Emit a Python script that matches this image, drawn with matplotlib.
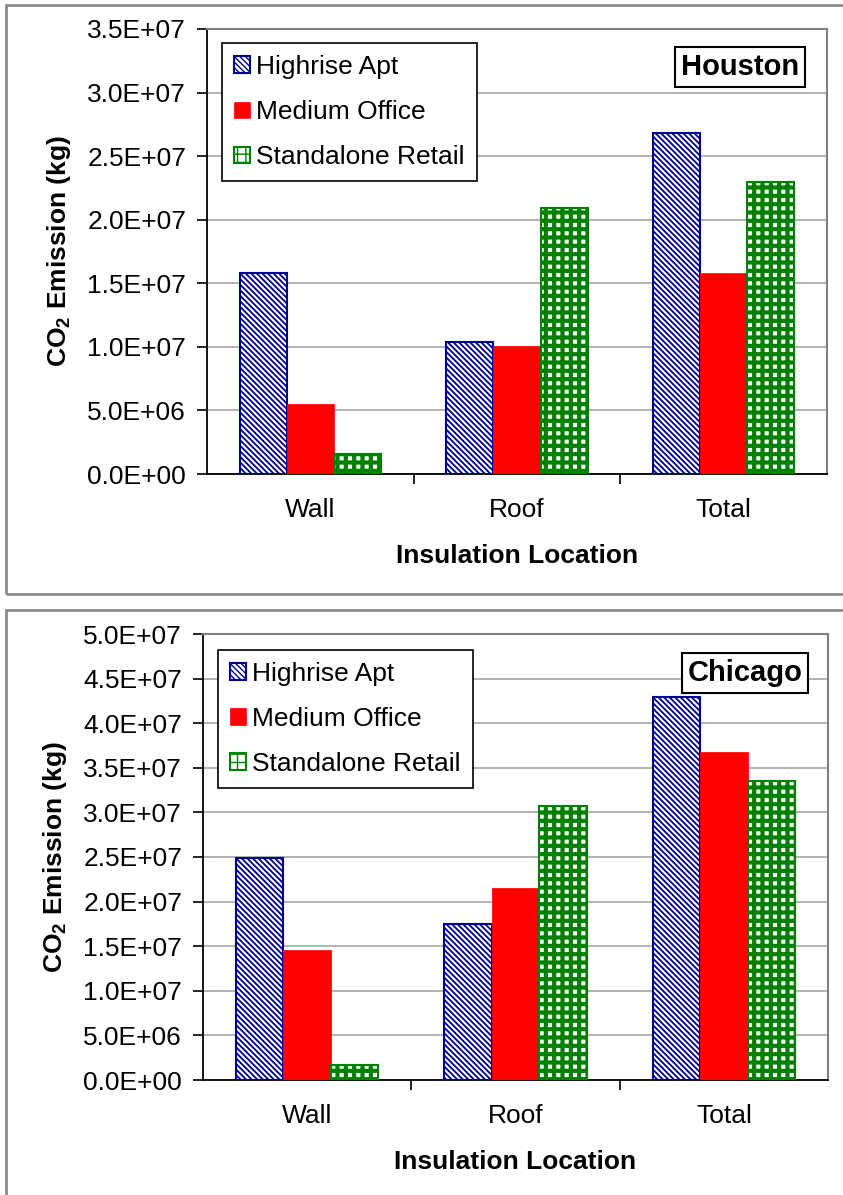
import numpy as np
import matplotlib
matplotlib.use("Agg")
import matplotlib.pyplot as plt
from matplotlib.patches import Rectangle
from matplotlib.ticker import FormatStrFormatter

# data (kg CO2)
locations = ["Wall", "Roof", "Total"]
series = ["Highrise Apt", "Medium Office", "Standalone Retail"]
houston_highrise = [15.8e6, 10.4e6, 26.8e6]
houston_office = [5.5e6, 10.1e6, 15.8e6]
houston_retail = [1.6e6, 20.9e6, 23.0e6]
chicago_highrise = [24.9e6, 17.5e6, 42.9e6]
chicago_office = [14.6e6, 21.5e6, 36.8e6]
chicago_retail = [1.7e6, 30.7e6, 33.5e6]

plt.rcParams['font.family'] = ['Liberation Sans', 'DejaVu Sans']
plt.rcParams['mathtext.fontset'] = 'custom'
plt.rcParams['mathtext.rm'] = 'Liberation Sans'
plt.rcParams['mathtext.bf'] = 'Liberation Sans:bold'
plt.rcParams['font.size'] = 19

styles = [
    dict(facecolor="white", edgecolor="#000090", hatch="\\" * 6, lw=1.5, hlw=1.3),
    dict(facecolor="#ff0000", edgecolor="#ff0000", hatch=None, lw=0.5, hlw=1.0),
    dict(facecolor="white", edgecolor="#008000", hatch="++", lw=1.5, hlw=3.0),
]

fig = plt.figure(figsize=(8.43, 11.95), dpi=100)

# grey panel frames like the pasted excel charts
for y0, y1 in [(5, 594), (610, 1220)]:
    fig.add_artist(Rectangle((6 / 843, 1 - y1 / 1195), 1.0, (y1 - y0) / 1195,
                             transform=fig.transFigure, fill=False,
                             edgecolor="#8c8c8c", lw=2.0))


def panel(rect, vals, ymax, city, leg_y, city_xy):
    ax = fig.add_axes(rect)
    x = np.arange(len(locations))
    w = 0.228
    for i, (v, st) in enumerate(zip(vals, styles)):
        bars = ax.bar(x + (i - 1) * w, v, w, facecolor=st["facecolor"],
                      edgecolor=st["edgecolor"], hatch=st["hatch"],
                      linewidth=st["lw"], label=series[i], zorder=3)
        for b in bars:
            if hasattr(b, "set_hatch_linewidth"):
                b.set_hatch_linewidth(st["hlw"])
    ax.set_xlim(-0.5, 2.5)
    ax.set_ylim(0, ymax)
    ax.set_yticks(np.arange(0, ymax + 1, 5e6))
    ax.yaxis.set_major_formatter(FormatStrFormatter("%.1E"))
    ax.grid(axis="y", color="#a6a6a6", lw=1.2, zorder=0)
    ax.set_xticks([0.5, 1.5])
    ax.set_xticklabels([])
    ax.set_xticks(x, minor=True)
    ax.set_xticklabels(locations, minor=True)
    ax.tick_params(axis="x", which="major", length=7, width=1.2, direction="out")
    ax.tick_params(axis="x", which="minor", length=0, pad=17)
    ax.tick_params(axis="y", length=7, width=1.2, direction="out", pad=8)
    for s in ["left", "bottom"]:
        ax.spines[s].set_color("black")
        ax.spines[s].set_linewidth(1.3)
    for s in ["top", "right"]:
        ax.spines[s].set_color("#7f7f7f")
        ax.spines[s].set_linewidth(1.5)
    ax.set_xlabel("Insulation Location", fontweight="bold", labelpad=16)
    ax.set_ylabel(r"CO$_\mathbf{2}$ Emission (kg)", fontweight="bold", labelpad=10)
    leg = ax.legend(loc="upper left", bbox_to_anchor=(0.024, leg_y), fancybox=False,
                    framealpha=1, edgecolor="black", borderpad=0.45,
                    labelspacing=0.8, handlelength=0.6, handleheight=0.6,
                    handletextpad=0.25, borderaxespad=0)
    leg.get_frame().set_linewidth(1.2)
    ax.text(city_xy[0], city_xy[1], city, transform=ax.transAxes, fontsize=21,
            fontweight="bold", ha="center", va="center", zorder=5,
            bbox=dict(boxstyle="square,pad=0.2", facecolor="white",
                      edgecolor="black", lw=1.5))
    return ax


panel([207 / 843, 1 - 474 / 1195, 620 / 843, 445 / 1195],
      [houston_highrise, houston_office, houston_retail], 3.5e7,
      "Houston", 0.968, (0.86, 0.915))
panel([203 / 843, 1 - 1080 / 1195, 625 / 843, 446 / 1195],
      [chicago_highrise, chicago_office, chicago_retail], 5.0e7,
      "Chicago", 0.964, (0.867, 0.913))

fig.savefig("out.png", dpi=100)
